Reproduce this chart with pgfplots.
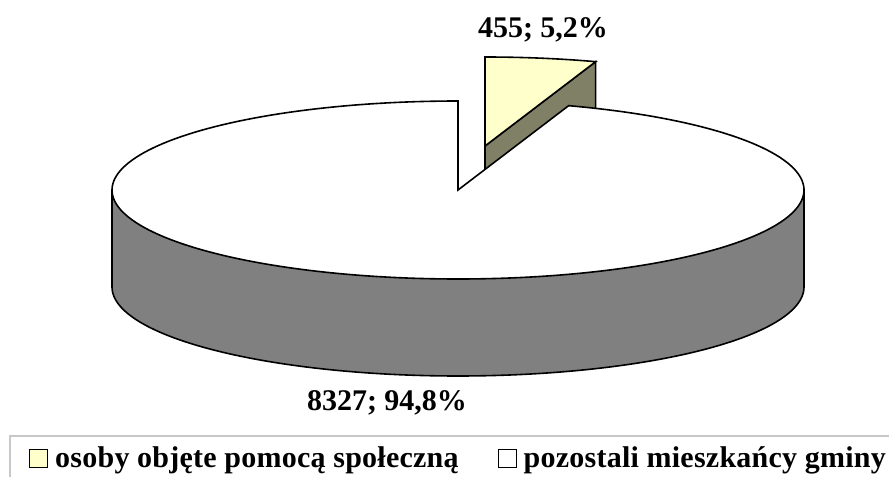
\documentclass[border=0pt]{standalone}
\usepackage{fontspec}
\setmainfont{Liberation Serif}
\newfontfamily\legfont[LetterSpace=0.8]{Liberation Serif}
\usepackage{pgfplots}
\usepackage{pgfplotstable}
\pgfplotsset{compat=1.18}
\definecolor{sliceA}{RGB}{255,255,204}
\definecolor{sliceAside}{RGB}{128,128,102}
\definecolor{wallgray}{RGB}{128,128,128}
\definecolor{legframe}{RGB}{200,200,200}

\pgfplotstableread{
label value
A 455
B 8327
}\piedata

\begin{document}
\begin{tikzpicture}
\pgfplotstablegetelem{0}{value}\of\piedata \let\va\pgfplotsretval
\pgfplotstablegetelem{1}{value}\of\piedata \let\vb\pgfplotsretval
\pgfmathsetmacro\fr{\va/(\va+\vb)}
\pgfmathsetmacro\ang{360*\fr}
\def\cx{458}\def\cy{190}\def\ra{346}\def\rb{89}\def\dep{97}
\def\ex{27}\def\ey{-44}
\pgfmathsetmacro\sx{\cx+\ex}
\pgfmathsetmacro\sy{\cy+\ey}
\pgfmathsetmacro\syd{\sy+\dep}
\pgfmathsetmacro\px{\cx+\ra*sin(\ang)}
\pgfmathsetmacro\py{\cy-\rb*cos(\ang)}
\pgfmathsetmacro\qx{\px+\ex}
\pgfmathsetmacro\qy{\py+\ey}
\pgfmathsetmacro\qyd{\qy+\dep}
\pgfmathsetmacro\xl{\cx-\ra}
\pgfmathsetmacro\xr{\cx+\ra}
\begin{axis}[
  width=889bp, height=477bp, scale only axis,
  at={(0,0)}, anchor=south west,
  xmin=0, xmax=889, ymin=0, ymax=477, y dir=reverse,
  hide axis, clip=false,
  legend columns=2,
  legend image code/.code={\draw[#1, line width=1bp] (0bp,-9bp) rectangle (18bp,9bp);},
  legend style={at={(axis cs:29,458)}, anchor=west, draw=none, fill=none,
    inner xsep=0pt, inner ysep=0pt,
    font=\fontsize{30bp}{36bp}\legfont\bfseries,
    nodes={inner sep=1bp},
    /tikz/every odd column/.append style={column sep=6bp},
    /tikz/every even column/.append style={column sep=38bp}},
]
% legend frame
\draw[legframe, line width=1.5bp] (axis cs:10,530) -- (axis cs:10,436) -- (axis cs:950,436);
% small slice radial side face
\addplot[fill=sliceAside, draw=black, line width=1.6bp, forget plot]
  coordinates {(\sx,\sy) (\qx,\qy) (\qx,\qyd) (\sx,\syd)} -- cycle;
% small slice top
\addplot[fill=sliceA, draw=black, line width=1.6bp, domain=0:\ang, samples=30, variable=\t, forget plot]
  ({\sx+\ra*sin(\t)},{\sy-\rb*cos(\t)}) -- (axis cs:\sx,\sy) -- cycle;
% big slice wall
\addplot[fill=wallgray, draw=black, line width=1.6bp, domain=90:270, samples=120, variable=\t, forget plot]
  ({\cx+\ra*sin(\t)},{\cy+\dep-\rb*cos(\t)}) -- (axis cs:\xl,\cy) -- (axis cs:\xr,\cy) -- cycle;
% big slice top
\addplot[fill=white, draw=black, line width=1.6bp, domain=\ang:360, samples=200, variable=\t, forget plot]
  ({\cx+\ra*sin(\t)},{\cy-\rb*cos(\t)}) -- (axis cs:\cx,\cy) -- cycle;
% labels
\node[font=\fontsize{30bp}{36bp}\selectfont\bfseries, anchor=base, inner sep=0pt] at (axis cs:543,37) {455; 5,2\%};
\node[font=\fontsize{30bp}{36bp}\selectfont\bfseries, anchor=base, inner sep=0pt] at (axis cs:387,410) {8327; 94,8\%};
% legend
\addlegendimage{fill=sliceA, draw=black}
\addlegendentry{osoby objęte pomocą społeczną}
\addlegendimage{fill=white, draw=black}
\addlegendentry{pozostali mieszkańcy gminy}
\coordinate (BL) at (axis cs:0,477);
\coordinate (TR) at (axis cs:889,0);
\end{axis}
\pgfresetboundingbox
\path (BL) rectangle (TR);
\end{tikzpicture}
\end{document}
